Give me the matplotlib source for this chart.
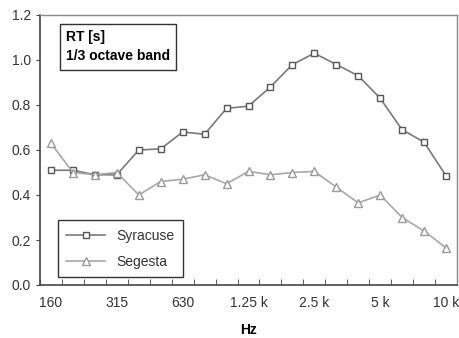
import numpy as np
import matplotlib
matplotlib.use('Agg')
import matplotlib.pyplot as plt
import matplotlib.ticker as ticker

plt.rcParams['font.family'] = ['Liberation Sans', 'DejaVu Sans']

bands = ['160', '200', '250', '315', '400', '500', '630', '800', '1 k',
         '1.25 k', '1.6 k', '2 k', '2.5 k', '3.15 k', '4 k', '5 k',
         '6.3 k', '8 k', '10 k']
syracuse = [0.51, 0.51, 0.49, 0.49, 0.60, 0.605, 0.68, 0.67, 0.785, 0.795,
            0.88, 0.98, 1.03, 0.98, 0.93, 0.83, 0.69, 0.635, 0.485]
segesta = [0.63, 0.50, 0.49, 0.50, 0.40, 0.46, 0.47, 0.49, 0.45, 0.505,
           0.49, 0.50, 0.505, 0.435, 0.365, 0.40, 0.30, 0.24, 0.165]

fig = plt.figure(figsize=(4.59, 3.38), dpi=100)
ax = fig.add_axes([40/459, 1 - 285/338, 417/459, 270/338])

x = np.arange(len(bands))
ax.plot(x, syracuse, color='#7a7a7a', lw=1.2, marker='s', ms=5,
        mfc='white', mec='#555555', mew=1.0, label='Syracuse')
ax.plot(x, segesta, color='#a8a8a8', lw=1.2, marker='^', ms=6,
        mfc='white', mec='#999999', mew=1.0, label='Segesta')

ax.set_xlim(-0.5, len(bands) - 0.5)
ax.set_ylim(0, 1.2)
ax.yaxis.set_major_locator(ticker.MultipleLocator(0.2))
ax.yaxis.set_major_formatter(ticker.FormatStrFormatter('%.1f'))

ax.set_xticks(x[::3])
ax.set_xticklabels(bands[::3])
ax.set_xticks(np.arange(len(bands) + 1) - 0.5, minor=True)
ax.tick_params(axis='x', which='major', length=0, pad=8, labelsize=10,
               labelcolor='#333333')
ax.tick_params(axis='x', which='minor', direction='in', length=4,
               color='#444444')
ax.tick_params(axis='y', direction='out', length=3, labelsize=10,
               labelcolor='#333333', color='#444444')

for s in ['left', 'bottom']:
    ax.spines[s].set_color('#444444')
    ax.spines[s].set_linewidth(1.2)
for s in ['top', 'right']:
    ax.spines[s].set_color('#888888')
    ax.spines[s].set_linewidth(1.0)

ax.set_xlabel('Hz', fontsize=10, fontweight='bold', labelpad=9)

ax.text(0.062, 0.945, 'RT [s]\n1/3 octave band', transform=ax.transAxes,
        fontsize=10, fontweight='bold', va='top', ha='left',
        linespacing=1.5,
        bbox=dict(boxstyle='square,pad=0.45', fc='white', ec='#333333', lw=1))

leg = ax.legend(loc='lower left', bbox_to_anchor=(0.043, 0.03), fontsize=10,
                fancybox=False, framealpha=1, edgecolor='#333333',
                handlelength=2.8, labelspacing=0.85, borderpad=0.6,
                borderaxespad=0, labelcolor='#333333')
leg.get_frame().set_linewidth(1.0)

fig.savefig('out.png', dpi=100)
